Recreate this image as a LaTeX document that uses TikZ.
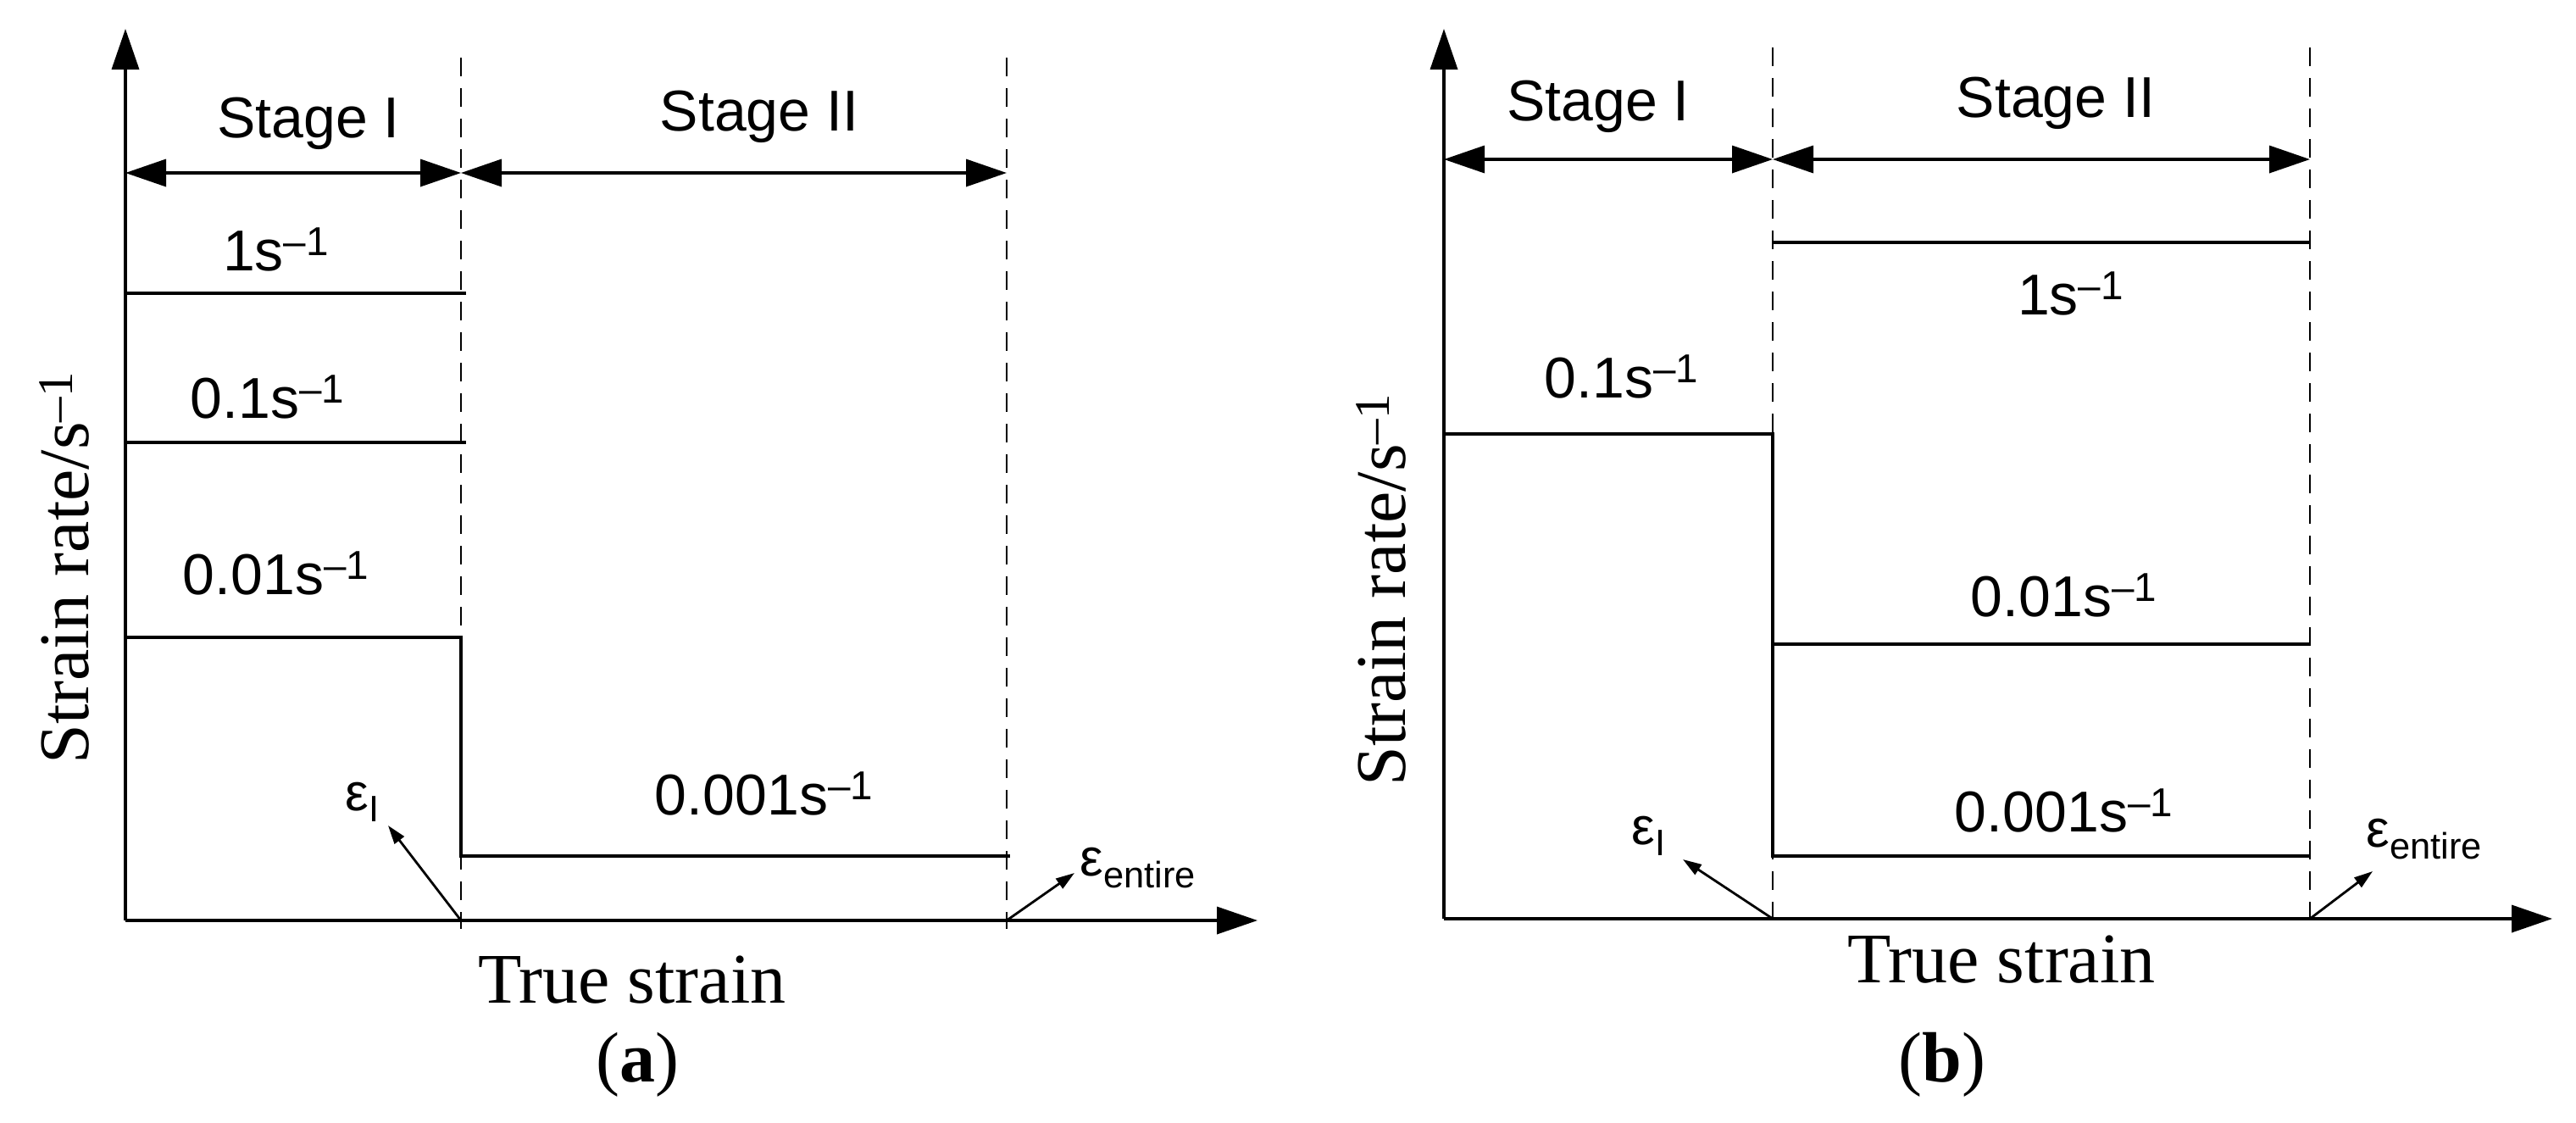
\documentclass[tikz,border=0pt]{standalone}
\usepackage{fontspec}
\setmainfont{Liberation Serif}
\newfontfamily\sansf{Liberation Sans}
\usetikzlibrary{arrows.meta}
\newcommand{\sm}{\textsuperscript{–1}}
\tikzset{
 ln/.style={line width=1.8pt},
 ax/.style={ln,-{Triangle[length=24pt,width=16pt]}},
 dim/.style={ln,{Triangle[length=24pt,width=16pt]}-{Triangle[length=24pt,width=16pt]}},
 dsh/.style={line width=1.4pt,dash pattern=on 11pt off 7pt},
 pt/.style={line width=1.4pt,-{Triangle[length=11pt,width=7pt]}},
 lab/.style={font=\sansf\fontsize{34}{38}\selectfont,inner sep=0pt},
 eps/.style={font=\sansf\fontsize{31}{34}\selectfont,inner sep=0pt},
 big/.style={font=\fontsize{42}{46}\selectfont,inner sep=0pt},
}
\begin{document}
\begin{tikzpicture}[x=1pt,y=-1pt]
\useasboundingbox (0,0) rectangle (1520,662);
% ---------- panel a
\coordinate (ao) at (74,543);
\coordinate (ay) at (74,17);
\coordinate (ax) at (742,543);
\coordinate (ad1t) at (272,34); \coordinate (ad1b) at (272,548);
\coordinate (ad2t) at (594,34); \coordinate (ad2b) at (594,548);
\draw[ax] (ao) -- (ay);
\draw[ax] (ao) -- (ax);
\draw[dsh] (ad1t) -- (ad1b);
\draw[dsh] (ad2t) -- (ad2b);
\coordinate (as0) at (74,102); \coordinate (as1) at (272,102); \coordinate (as2) at (594,102);
\draw[dim] (as0) -- (as1);
\draw[dim] (as1) -- (as2);
\node[lab] (aS1) at (182,73) {Stage I};
\node[lab] (aS2) at (448,69) {Stage II};
\coordinate (a1a) at (74,173); \coordinate (a1b) at (275,173);
\draw[ln] (a1a) -- (a1b);
\node[lab] (a1) at (163,147) {1s\sm};
\coordinate (a2a) at (74,261); \coordinate (a2b) at (275,261);
\draw[ln] (a2a) -- (a2b);
\node[lab] (a2) at (158,234) {0.1s\sm};
\coordinate (a3a) at (74,376); \coordinate (a3b) at (272,376);
\coordinate (a3c) at (272,505); \coordinate (a3d) at (596,505);
\draw[ln] (a3a) -- (a3b) -- (a3c) -- (a3d);
\node[lab] (a3) at (163,338) {0.01s\sm};
\node[lab] (a4) at (451,468) {0.001s\sm};
\node[eps] (aeI) at (214,473) {ε\textsubscript{I}};
\coordinate (aeIb) at (272,543);
\coordinate (aeIt) at (229,487);
\draw[pt] (aeIb) -- (aeIt);
\coordinate (aeEb) at (594,543);
\coordinate (aeEt) at (634,515);
\draw[pt] (aeEb) -- (aeEt);
\node[eps,anchor=west] (aeE) at (637,512) {ε\textsubscript{entire}};
\node[big] (aX) at (373,578) {True strain};
\node[big] (acap) at (376,628) {(\textbf{a})};
\node[big,rotate=90] (aY) at (38,335) {Strain rate/s\sm};
% ---------- panel b
\coordinate (bo) at (852,542);
\coordinate (by) at (852,17);
\coordinate (bx) at (1506,542);
\coordinate (bd1t) at (1046,28); \coordinate (bd1b) at (1046,548);
\coordinate (bd2t) at (1363,28); \coordinate (bd2b) at (1363,548);
\draw[ax] (bo) -- (by);
\draw[ax] (bo) -- (bx);
\draw[dsh] (bd1t) -- (bd1b);
\draw[dsh] (bd2t) -- (bd2b);
\coordinate (bs0) at (852,94); \coordinate (bs1) at (1046,94); \coordinate (bs2) at (1363,94);
\draw[dim] (bs0) -- (bs1);
\draw[dim] (bs1) -- (bs2);
\node[lab] (bS1) at (943,63) {Stage I};
\node[lab] (bS2) at (1213,61) {Stage II};
\coordinate (b1a) at (1046,143); \coordinate (b1b) at (1363,143);
\draw[ln] (b1a) -- (b1b);
\node[lab] (b1) at (1222,173) {1s\sm};
\coordinate (b2a) at (852,256); \coordinate (b2b) at (1046,256);
\coordinate (b2c) at (1046,505); \coordinate (b2d) at (1363,505);
\draw[ln] (b2a) -- (b2b) -- (b2c) -- (b2d);
\node[lab] (b2) at (957,222) {0.1s\sm};
\coordinate (b3a) at (1046,380); \coordinate (b3b) at (1363,380);
\draw[ln] (b3a) -- (b3b);
\node[lab] (b3) at (1218,351) {0.01s\sm};
\node[lab] (b4) at (1218,478) {0.001s\sm};
\node[eps] (beI) at (973,493) {ε\textsubscript{I}};
\coordinate (beIb) at (1046,542);
\coordinate (beIt) at (993,507);
\draw[pt] (beIb) -- (beIt);
\coordinate (beEb) at (1363,542);
\coordinate (beEt) at (1400,514);
\draw[pt] (beEb) -- (beEt);
\node[eps,anchor=west] (beE) at (1396,495) {ε\textsubscript{entire}};
\node[big] (bX) at (1181,566) {True strain};
\node[big] (bcap) at (1146,628) {(\textbf{b})};
\node[big,rotate=90] (bY) at (815,348) {Strain rate/s\sm};
\end{tikzpicture}
\end{document}
